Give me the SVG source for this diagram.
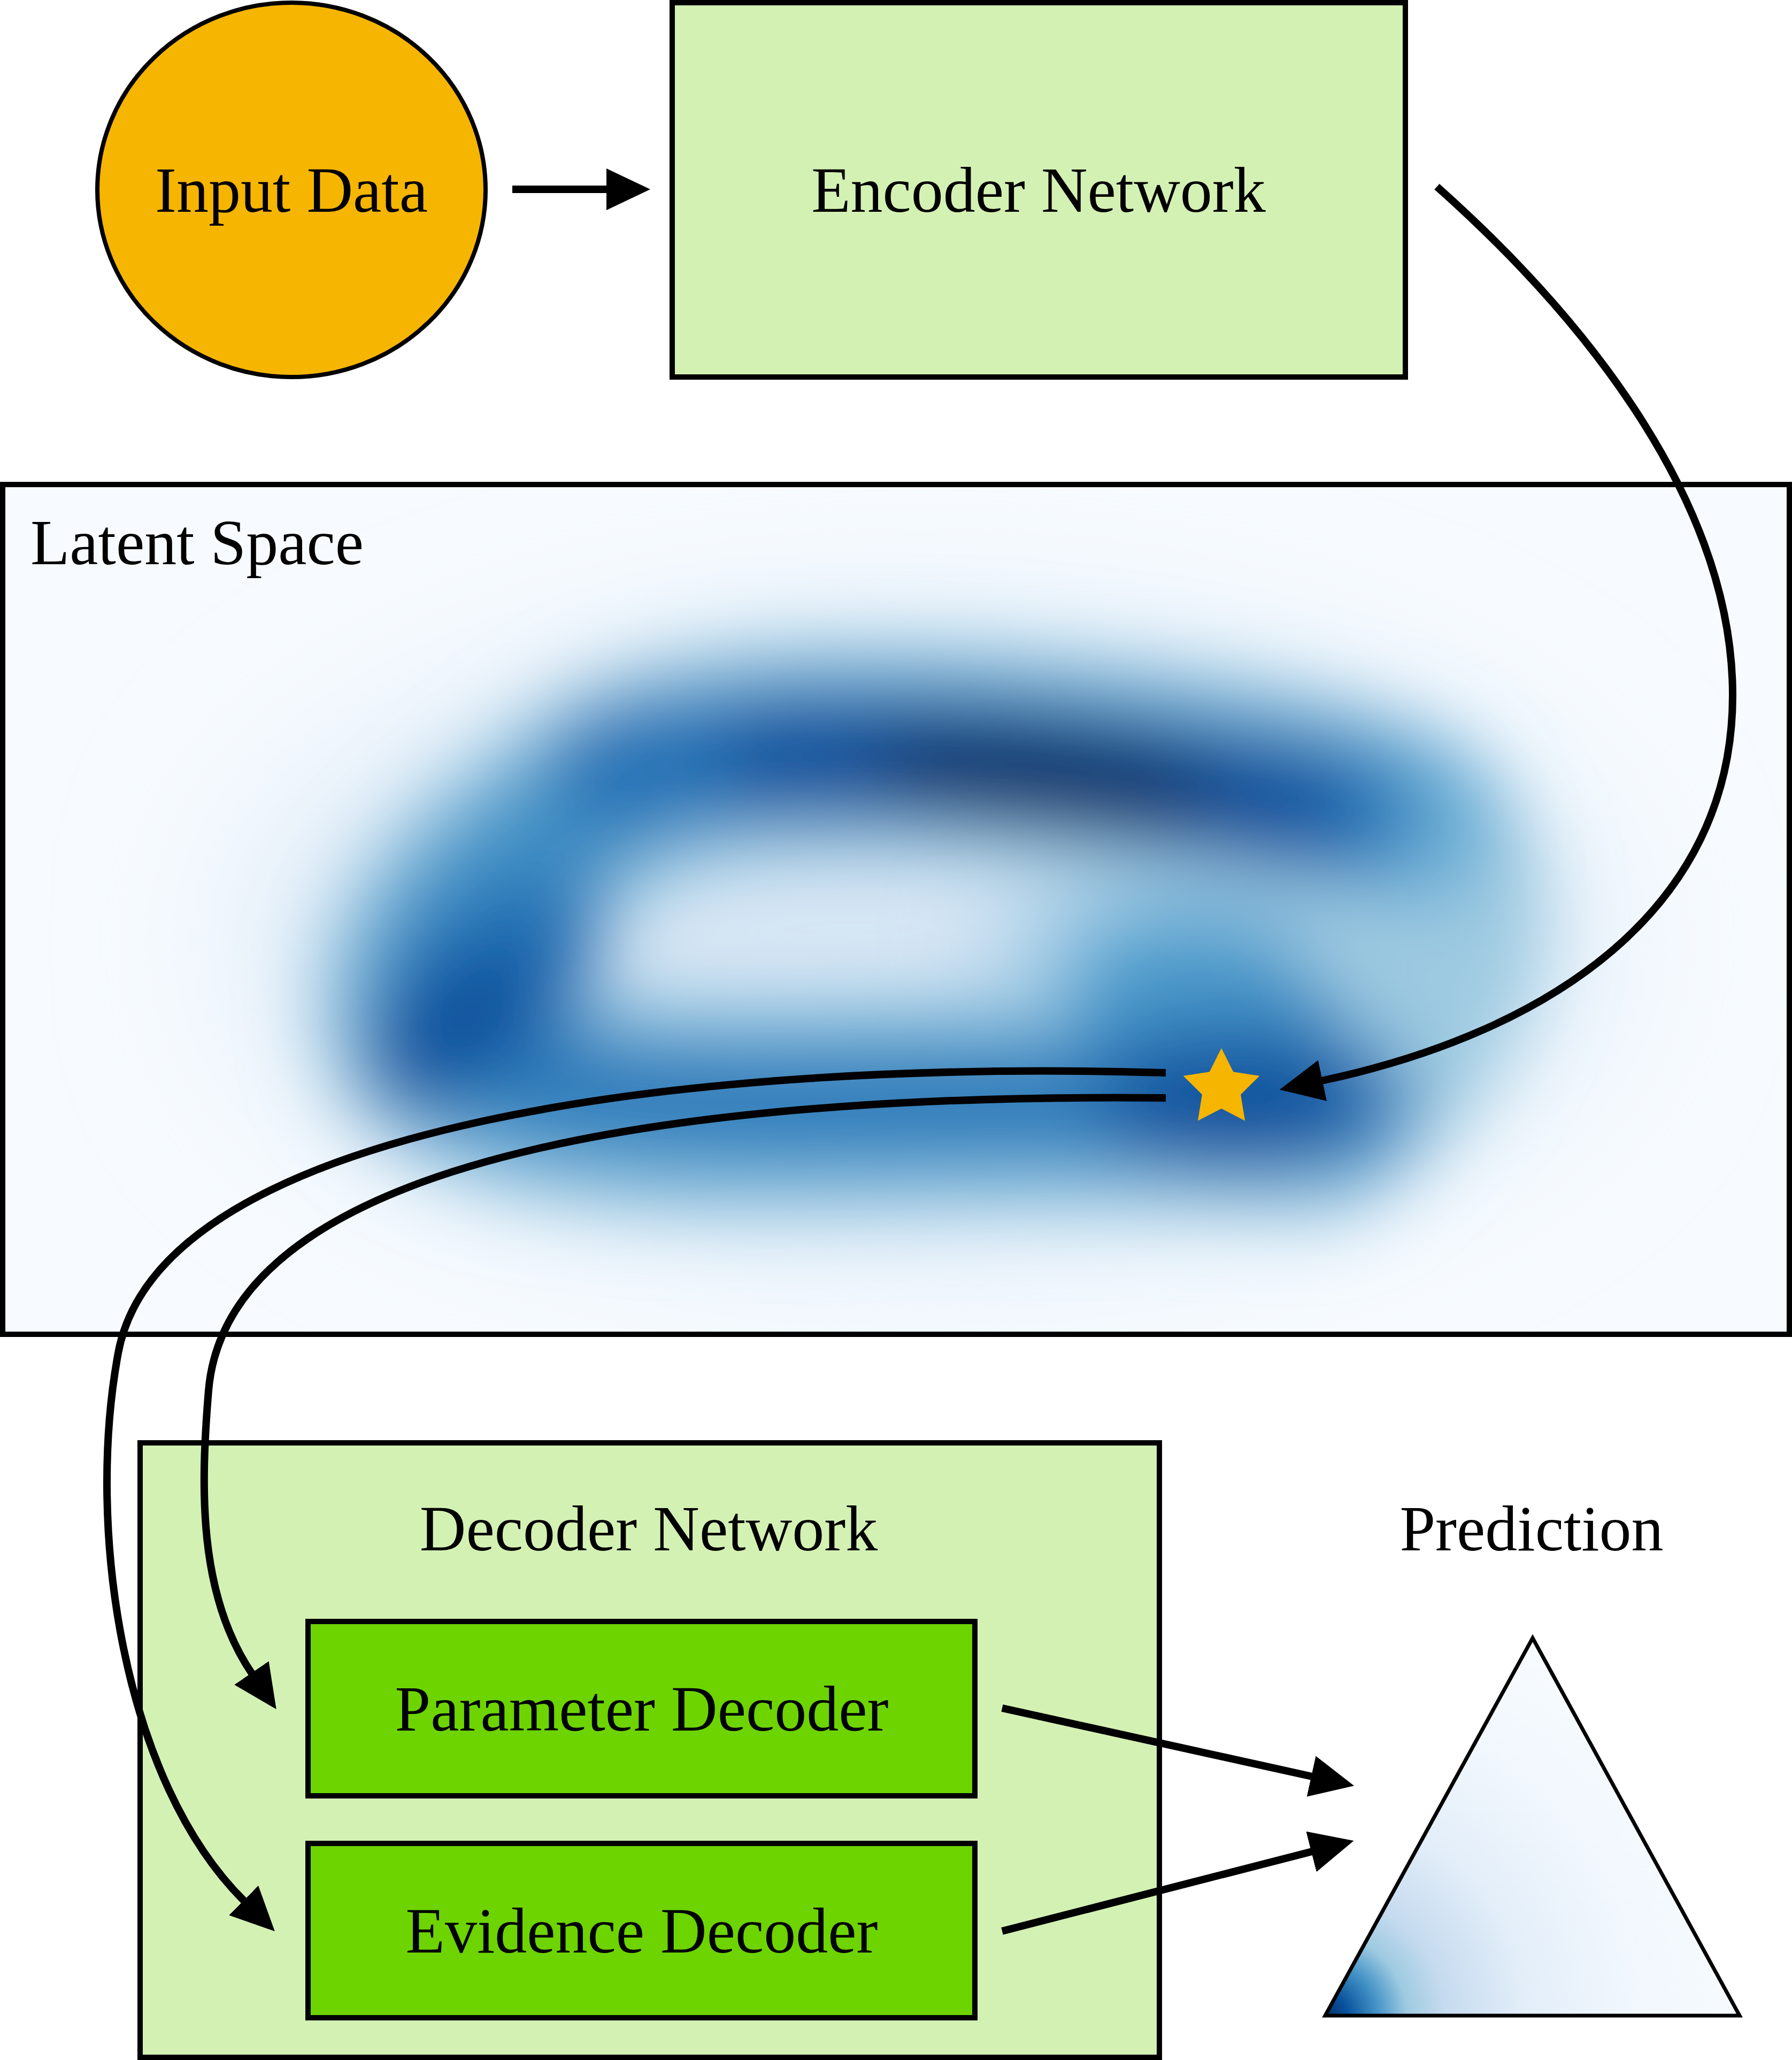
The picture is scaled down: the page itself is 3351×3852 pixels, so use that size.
<svg xmlns="http://www.w3.org/2000/svg" width="3351" height="3852" viewBox="0 0 3351 3852">
<style>
.lbl{font-family:"Liberation Serif","Times New Roman",serif;font-size:120px;fill:#000;}
.mid{text-anchor:middle;}
.box{stroke:#000;stroke-width:10;}
.con{fill:none;stroke:#000;stroke-width:14;}
.rs{fill:none;stroke-linecap:round;stroke-linejoin:round;}
</style>
<defs>
<marker id="ah" markerUnits="userSpaceOnUse" markerWidth="82" markerHeight="78" refX="2" refY="39" orient="auto" viewBox="0 0 82 78">
<path d="M0,0 L82,39 L0,78 z" fill="#000"/>
</marker>
<clipPath id="latClip"><rect x="10" y="911" width="3331" height="1579"/></clipPath>
<filter id="blurBig" filterUnits="userSpaceOnUse" x="0" y="800" width="3351" height="1800"><feGaussianBlur stdDeviation="170"/></filter>
<filter id="blurSoft" filterUnits="userSpaceOnUse" x="0" y="800" width="3351" height="1800"><feGaussianBlur stdDeviation="120"/></filter>
<filter id="blurMid" filterUnits="userSpaceOnUse" x="0" y="800" width="3351" height="1800"><feGaussianBlur stdDeviation="70"/></filter>
<radialGradient id="triGrad" gradientUnits="userSpaceOnUse" cx="2478" cy="3769" r="800">
<stop offset="0" stop-color="#08306b"/>
<stop offset="0.05" stop-color="#08519c"/>
<stop offset="0.12" stop-color="#4292c6"/>
<stop offset="0.19" stop-color="#9ecae1"/>
<stop offset="0.28" stop-color="#c6dbef"/>
<stop offset="0.47" stop-color="#e3eef9"/>
<stop offset="0.72" stop-color="#f1f7fd"/>
<stop offset="1" stop-color="#f7fbff"/>
</radialGradient>
</defs>
<rect width="3351" height="3852" fill="#fff"/>

<g id="input-data">
<ellipse cx="545" cy="355" rx="363" ry="350" fill="#f6b500" stroke="#000" stroke-width="8"/>
<text class="lbl mid" x="545" y="396">Input Data</text>
</g>

<g id="encoder-network">
<rect class="box" x="1257" y="5" width="1371" height="700" fill="#d4f1b4"/>
<text class="lbl mid" x="1942" y="396">Encoder Network</text>
</g>

<g id="latent-space">
<rect class="box" x="5" y="906" width="3341" height="1589" fill="#f7fbff"/>
<g clip-path="url(#latClip)">
<g filter="url(#blurBig)">
<ellipse cx="1720" cy="1760" rx="1250" ry="540" fill="#d8e7f5"/>
</g>
<g filter="url(#blurSoft)">
<ellipse cx="2300" cy="1740" rx="420" ry="260" transform="rotate(-25 2300 1740)" fill="#9ecae1"/>
<ellipse cx="2200" cy="1800" rx="300" ry="180" transform="rotate(-30 2200 1800)" fill="#6baed6"/>
</g>
<g filter="url(#blurMid)">
<path class="rs" stroke="#9ecae1" stroke-width="400" d="M2450,2080 C2100,2050 1700,2070 1400,2070 C1100,2070 850,2030 800,1930 C760,1800 900,1650 1050,1550 C1150,1450 1300,1400 1600,1400 C1950,1400 2400,1460 2600,1560 C2750,1650 2700,1900 2450,2080 Z"/>
<path class="rs" stroke="#6baed6" stroke-width="310" d="M2500,2070 C2100,2050 1700,2070 1400,2070 C1100,2070 850,2030 800,1930 C760,1800 900,1650 1050,1550 C1150,1450 1300,1400 1600,1400 C1950,1400 2400,1460 2650,1540"/>
<path class="rs" stroke="#4292c6" stroke-width="240" d="M2450,2070 C2100,2050 1700,2070 1400,2070 C1100,2070 850,2030 800,1930 C760,1800 900,1650 1050,1550 C1150,1450 1300,1400 1600,1400 C1950,1400 2300,1460 2550,1520"/>
<ellipse cx="2260" cy="1910" rx="260" ry="140" fill="#4292c6"/>
<path class="rs" stroke="#2171b5" stroke-width="240" d="M1150,1440 C1400,1400 1800,1410 2000,1440 C2200,1470 2400,1500 2500,1520"/>
<path class="rs" stroke="#2171b5" stroke-width="110" d="M1000,2020 C1300,2065 1700,2065 2100,2060"/>
<ellipse cx="900" cy="1860" rx="280" ry="160" transform="rotate(-45 900 1860)" fill="#2171b5"/>
<ellipse cx="2320" cy="2060" rx="320" ry="140" fill="#2171b5"/>
<path class="rs" stroke="#08519c" stroke-width="210" d="M1450,1425 C1800,1420 2100,1460 2400,1505"/>
<ellipse cx="860" cy="1910" rx="180" ry="100" transform="rotate(-40 860 1910)" fill="#08519c"/>
<ellipse cx="2300" cy="2060" rx="250" ry="105" fill="#08519c"/>
<ellipse cx="1950" cy="1452" rx="340" ry="100" transform="rotate(6 1950 1452)" fill="#08306b"/>
</g>
</g>
<text class="lbl" x="57" y="1055">Latent Space</text>
<polygon points="2284,1960 2306.3,2004.3 2355.3,2011.8 2320.1,2046.7 2328.1,2095.7 2284,2073 2239.9,2095.7 2247.9,2046.7 2212.7,2011.8 2261.7,2004.3" fill="#f6b500"/>
</g>

<g id="decoder-network">
<rect class="box" x="262" y="2698" width="1906" height="1149" fill="#d4f1b4"/>
<text class="lbl mid" x="1213" y="2899">Decoder Network</text>
</g>

<g id="parameter-decoder">
<rect class="box" x="576" y="3032" width="1247" height="326" fill="#6dd400"/>
<text class="lbl mid" x="1200" y="3236">Parameter Decoder</text>
</g>

<g id="evidence-decoder">
<rect class="box" x="576" y="3447" width="1247" height="326" fill="#6dd400"/>
<text class="lbl mid" x="1200" y="3651">Evidence Decoder</text>
</g>

<g id="prediction">
<text class="lbl mid" x="2864" y="2899">Prediction</text>
<polygon points="2866,3063 3253,3769 2478,3769" fill="url(#triGrad)" stroke="#000" stroke-width="7" stroke-linejoin="miter"/>
</g>

<g id="connectors">
<path class="con" d="M958,354 L1136,354" marker-end="url(#ah)"/>
<path class="con" d="M2687,349 C2980,610 3240,950 3240,1300 C3240,1700 2900,1930 2471,2021" marker-end="url(#ah)"/>
<path class="con" d="M2180,2006 C1300,1980 300,2100 221,2530 C160,2860 230,3330 457,3555" marker-end="url(#ah)"/>
<path class="con" d="M2180,2053 C1400,2045 430,2130 390,2600 C375,2780 370,2981.5 471.5,3130" marker-end="url(#ah)"/>
<path class="con" d="M1874,3194 L2454,3322" marker-end="url(#ah)"/>
<path class="con" d="M1874,3611 L2454,3462" marker-end="url(#ah)"/>
</g>
</svg>
